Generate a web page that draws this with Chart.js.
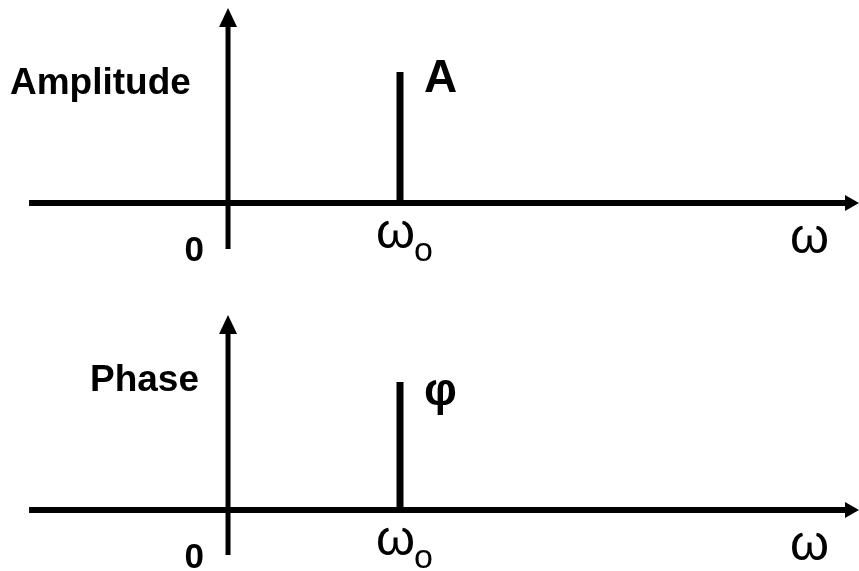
<!DOCTYPE html>
<html lang="en">
<head>
    <meta charset="UTF-8">
    <title>Amplitude and Phase Spectrum</title>
    <script src="https://cdn.jsdelivr.net/npm/chart.js"></script>
    <style>
        body { margin: 0; background: #fff; }
        canvas { position: absolute; left: 0; }
        #ampChart { top: 0; }
        #phaseChart { top: 286px; }
    </style>
</head>
<body>
    <canvas id="ampChart" width="859" height="286"></canvas>
    <canvas id="phaseChart" width="859" height="285"></canvas>

    <script>
        // frequency axis (omega), omega0 = 1
        const omega0 = 1;
        const freqRange = [-1.326, 3.669];
        const freqAxisStart = -1.157;
        const ampValues = [1];      // A
        const phaseValues = [1];    // phi
        const ampRange = [-0.634, 1.55];
        const phaseRange = [-0.477, 1.75];
        const ampAxisY = [-0.351, 1.489];     // vertical axis extent
        const phaseAxisY = [-0.352, 1.523];
        const tickLabels = ['0', 'ω', 'o', 'ω'];

        const FONT = '"Liberation Sans", Arial, sans-serif';

        function arrowAxes(axisY, yTitle, peakLabel, peakFont, peakDy) {
            return {
                id: 'arrowAxes',
                afterDatasetsDraw(chart) {
                    const c = chart.ctx;
                    const xs = chart.scales.x, ys = chart.scales.y;
                    const x0 = xs.getPixelForValue(0);
                    const y0 = ys.getPixelForValue(0);
                    const xl = xs.getPixelForValue(freqAxisStart);
                    const xr = xs.getPixelForValue(freqRange[1]);
                    const yb = ys.getPixelForValue(axisY[0]);
                    const yt = ys.getPixelForValue(axisY[1]);
                    c.save();
                    c.fillStyle = '#000';
                    c.strokeStyle = '#000';
                    c.lineCap = 'butt';
                    // horizontal axis
                    c.lineWidth = 6;
                    c.beginPath();
                    c.moveTo(xl, y0);
                    c.lineTo(xr - 12, y0);
                    c.stroke();
                    c.beginPath();
                    c.moveTo(xr, y0);
                    c.lineTo(xr - 14, y0 - 8);
                    c.lineTo(xr - 14, y0 + 8);
                    c.closePath();
                    c.fill();
                    // vertical axis
                    c.lineWidth = 5;
                    c.beginPath();
                    c.moveTo(x0, yb);
                    c.lineTo(x0, yt + 14);
                    c.stroke();
                    c.beginPath();
                    c.moveTo(x0, yt);
                    c.lineTo(x0 - 9, yt + 19);
                    c.lineTo(x0 + 9, yt + 19);
                    c.closePath();
                    c.fill();

                    // labels
                    const xw = xs.getPixelForValue(omega0);
                    const ypk = ys.getPixelForValue(1);
                    c.textBaseline = 'alphabetic';
                    c.textAlign = 'left';
                    c.font = 'bold 37px ' + FONT;
                    c.fillText(yTitle.text, yTitle.x, ypk + yTitle.dy);
                    c.font = peakFont;
                    c.fillText(peakLabel, xw + 24, ypk + peakDy);
                    c.font = 'bold 35px ' + FONT;
                    c.textAlign = 'right';
                    c.fillText(tickLabels[0], x0 - 24, y0 + 58);
                    c.textAlign = 'left';
                    c.font = '50px ' + FONT;
                    c.fillText(tickLabels[1], xw - 24, y0 + 45);
                    c.font = '34px ' + FONT;
                    c.fillText(tickLabels[2], xw + 14, y0 + 58);
                    c.font = '50px ' + FONT;
                    c.fillText(tickLabels[3], xr - 69, y0 + 50);
                    c.restore();
                }
            };
        }

        function makeChart(id, values, yRange, axisY, yTitle, peakLabel, peakFont, peakDy) {
            return new Chart(document.getElementById(id), {
                type: 'line',
                data: {
                    datasets: [{
                        data: [{ x: omega0, y: 0 }, { x: omega0, y: values[0] }],
                        borderColor: '#000',
                        borderWidth: 7,
                        borderCapStyle: 'butt',
                        pointRadius: 0,
                        fill: false
                    }]
                },
                options: {
                    responsive: false,
                    animation: false,
                    layout: { padding: 0 },
                    plugins: { legend: { display: false }, tooltip: { enabled: false } },
                    scales: {
                        x: { type: 'linear', min: freqRange[0], max: freqRange[1], display: false },
                        y: { type: 'linear', min: yRange[0], max: yRange[1], display: false }
                    }
                },
                plugins: [arrowAxes(axisY, yTitle, peakLabel, peakFont, peakDy)]
            });
        }

        makeChart('ampChart', ampValues, ampRange, ampAxisY,
            { text: 'Amplitude', x: 10, dy: 22 }, 'A', 'bold 46px ' + FONT, 20);
        makeChart('phaseChart', phaseValues, phaseRange, phaseAxisY,
            { text: 'Phase', x: 90, dy: 9 }, 'φ', 'bold 46px ' + FONT, 23);
    </script>
</body>
</html>
